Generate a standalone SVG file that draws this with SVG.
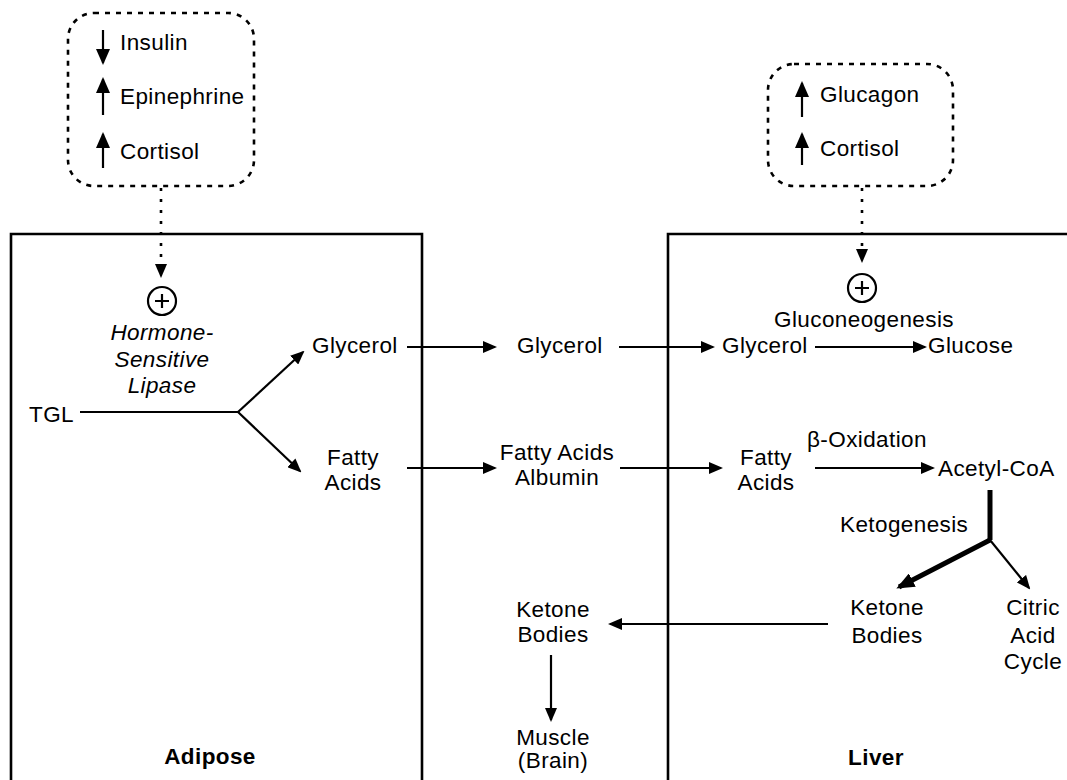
<svg xmlns="http://www.w3.org/2000/svg" width="1067" height="780" viewBox="0 0 1067 780">
<style>
text{font-family:"Liberation Sans",Arial,sans-serif;font-size:22.5px;letter-spacing:0.4px;fill:#000}
.c{text-anchor:middle}
.i{font-style:italic}
.b{font-weight:bold}
.ln{fill:none;stroke:#000;stroke-width:2.2}
.box{fill:none;stroke:#000;stroke-width:2.6}
.dot{fill:none;stroke:#000;stroke-width:2.6;stroke-dasharray:5 6}
.dl{fill:none;stroke:#000;stroke-width:2.6;stroke-dasharray:3 8}
.thick{fill:none;stroke:#000;stroke-width:5}
</style>
<defs>
<marker id="ah" markerWidth="14" markerHeight="12" refX="12" refY="6" orient="auto" markerUnits="userSpaceOnUse"><path d="M0,0 L14,6 L0,12 z" fill="#000"/></marker>
<marker id="ahh" markerWidth="16" markerHeight="14" refX="14" refY="7" orient="auto" markerUnits="userSpaceOnUse"><path d="M0,0 L16,7 L0,14 z" fill="#000"/></marker>
<marker id="ahb" markerWidth="18" markerHeight="15" refX="15" refY="7.5" orient="auto" markerUnits="userSpaceOnUse"><path d="M0,0 L18,7.5 L0,15 z" fill="#000"/></marker>
</defs>

<g id="adipose-box">
<path class="box" d="M11,790 V234 H422 V790"/>
<text class="b c" x="210" y="764">Adipose</text>
</g>
<g id="liver-box">
<path class="box" d="M668,790 V234 H1075"/>
<text class="b c" x="876" y="765">Liver</text>
</g>

<g id="adipose-hormones">
<rect class="dot" x="68" y="13" width="186" height="173" rx="26"/>
<line class="ln" x1="103" y1="30" x2="103" y2="63" marker-end="url(#ahh)"/>
<text x="120" y="50">Insulin</text>
<line class="ln" x1="103" y1="115" x2="103" y2="79" marker-end="url(#ahh)"/>
<text x="120" y="104">Epinephrine</text>
<line class="ln" x1="103" y1="168" x2="103" y2="134" marker-end="url(#ahh)"/>
<text x="120" y="159">Cortisol</text>
</g>

<g id="liver-hormones">
<rect class="dot" x="768" y="64" width="185" height="122" rx="26"/>
<line class="ln" x1="802" y1="117" x2="802" y2="83" marker-end="url(#ahh)"/>
<text x="820" y="102">Glucagon</text>
<line class="ln" x1="802" y1="165" x2="802" y2="134" marker-end="url(#ahh)"/>
<text x="820" y="156">Cortisol</text>
</g>

<g id="hsl">
<circle class="ln" cx="162" cy="301" r="14"/>
<path class="ln" d="M155,301 H169 M162,294 V308"/>
<text class="i c" x="162" y="340">Hormone-</text>
<text class="i c" x="162" y="367">Sensitive</text>
<text class="i c" x="162" y="393">Lipase</text>
</g>

<g id="gng">
<circle class="ln" cx="862" cy="288" r="14"/>
<path class="ln" d="M855,288 H869 M862,281 V295"/>
<text class="c" x="864" y="327">Gluconeogenesis</text>
</g>

<g id="tgl"><text x="29" y="422">TGL</text></g>
<g id="glycerol-adipose"><text x="312" y="353">Glycerol</text></g>
<g id="fa-adipose"><text class="c" x="353" y="465">Fatty</text><text class="c" x="353" y="490">Acids</text></g>
<g id="glycerol-blood"><text x="517" y="353">Glycerol</text></g>
<g id="fa-albumin"><text class="c" x="557" y="460">Fatty Acids</text><text class="c" x="557" y="485">Albumin</text></g>
<g id="glycerol-liver"><text x="722" y="353">Glycerol</text></g>
<g id="glucose"><text x="928" y="353">Glucose</text></g>
<g id="fa-liver"><text class="c" x="766" y="465">Fatty</text><text class="c" x="766" y="490">Acids</text></g>
<g id="acetylcoa"><text x="938" y="476">Acetyl-CoA</text></g>
<g id="ketone-liver"><text class="c" x="887" y="615">Ketone</text><text class="c" x="887" y="643">Bodies</text></g>
<g id="citric"><text class="c" x="1033" y="615">Citric</text><text class="c" x="1033" y="643">Acid</text><text class="c" x="1033" y="669">Cycle</text></g>
<g id="ketone-blood"><text class="c" x="553" y="617">Ketone</text><text class="c" x="553" y="642">Bodies</text></g>
<g id="muscle"><text class="c" x="553" y="745">Muscle</text><text class="c" x="553" y="768">(Brain)</text></g>

<g id="connectors">
<line class="dl" x1="161" y1="188" x2="161" y2="276" marker-end="url(#ah)"/>
<line class="dl" x1="862" y1="188" x2="862" y2="261" marker-end="url(#ah)"/>
<path class="ln" d="M80,412 H238"/>
<path class="ln" d="M238,412 L303,352" marker-end="url(#ah)"/>
<path class="ln" d="M238,412 L300,471" marker-end="url(#ah)"/>
<path class="ln" d="M407,347 H495" marker-end="url(#ah)"/>
<path class="ln" d="M619,347 H713" marker-end="url(#ah)"/>
<path class="ln" d="M815,347 H925" marker-end="url(#ah)"/>
<path class="ln" d="M407,468 H495" marker-end="url(#ah)"/>
<path class="ln" d="M620,468 H721" marker-end="url(#ah)"/>
<path class="ln" d="M815,468 H933" marker-end="url(#ah)"/>
<text x="807" y="447">β-Oxidation</text>
<path class="thick" d="M990,490 V540"/>
<path class="thick" d="M990,540 L899,587" marker-end="url(#ahb)"/>
<path class="ln" d="M990,540 L1029,588" marker-end="url(#ah)"/>
<text x="840" y="532">Ketogenesis</text>
<path class="ln" d="M828,624 H610" marker-end="url(#ah)"/>
<path class="ln" d="M551,655 V720" marker-end="url(#ah)"/>
</g>
</svg>
